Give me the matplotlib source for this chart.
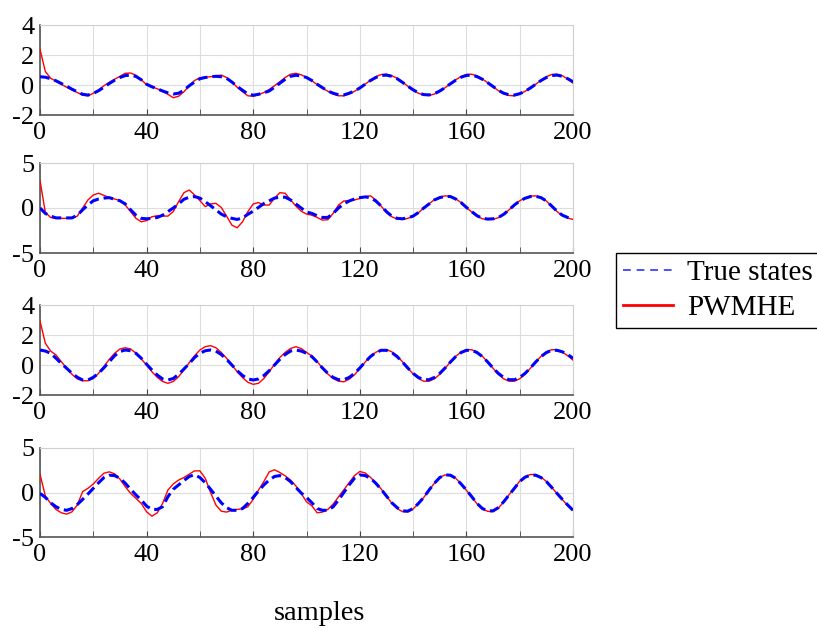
import numpy as np
import matplotlib
matplotlib.use('Agg')
import matplotlib.pyplot as plt
from matplotlib.lines import Line2D

plt.rcParams['font.family'] = ['Liberation Serif', 'DejaVu Serif']
plt.rcParams['axes.unicode_minus'] = False

# sample index (every 2 samples)
t = list(range(0, 201, 2))

# state 1
x1_true = [0.55, 0.52, 0.42, 0.28, 0.1, -0.08, -0.28, -0.45, -0.62, -0.67,
           -0.56, -0.38, -0.15, 0.1, 0.32, 0.5, 0.63, 0.66, 0.57, 0.35,
           0.05, -0.12, -0.25, -0.4, -0.52, -0.6, -0.55, -0.35, -0.05, 0.2,
           0.42, 0.5, 0.55, 0.58, 0.55, 0.45, 0.2, -0.1, -0.35, -0.6,
           -0.68, -0.62, -0.52, -0.4, -0.15, 0.12, 0.38, 0.58, 0.65, 0.6,
           0.5, 0.3, 0.05, -0.18, -0.4, -0.55, -0.65, -0.66, -0.55, -0.4,
           -0.2, 0.05, 0.3, 0.5, 0.63, 0.66, 0.58, 0.42, 0.18, -0.08,
           -0.32, -0.52, -0.64, -0.66, -0.58, -0.4, -0.18, 0.08, 0.32, 0.52,
           0.64, 0.66, 0.56, 0.38, 0.15, -0.1, -0.35, -0.55, -0.65, -0.67,
           -0.58, -0.42, -0.2, 0.05, 0.3, 0.5, 0.63, 0.66, 0.58, 0.42,
           0.22]
x1_est = [2.38, 0.9, 0.45, 0.25, 0.05, -0.15, -0.32, -0.5, -0.68, -0.72,
          -0.55, -0.32, -0.05, 0.18, 0.38, 0.58, 0.78, 0.8, 0.65, 0.35,
          0.02, -0.12, -0.25, -0.42, -0.62, -0.85, -0.75, -0.45, -0.05, 0.3,
          0.48, 0.52, 0.55, 0.62, 0.66, 0.5, 0.2, -0.15, -0.45, -0.72,
          -0.75, -0.65, -0.5, -0.3, -0.05, 0.22, 0.5, 0.72, 0.78, 0.68,
          0.5, 0.28, 0.03, -0.2, -0.42, -0.6, -0.72, -0.72, -0.6, -0.42,
          -0.2, 0.05, 0.32, 0.55, 0.7, 0.72, 0.62, 0.45, 0.2, -0.08,
          -0.35, -0.55, -0.68, -0.7, -0.6, -0.42, -0.18, 0.08, 0.35, 0.56,
          0.7, 0.72, 0.6, 0.4, 0.15, -0.12, -0.38, -0.58, -0.7, -0.72,
          -0.6, -0.42, -0.2, 0.05, 0.32, 0.55, 0.7, 0.72, 0.62, 0.4,
          0.12]

# state 2
x2_true = [0.0, -0.6, -0.9, -1.1, -1.1, -1.1, -1.1, -0.8, -0.2, 0.35,
           0.8, 1.0, 1.1, 1.15, 0.97, 0.8, 0.45, -0.2, -0.8, -1.15,
           -1.2, -1.15, -1.05, -0.8, -0.4, 0.0, 0.45, 0.97, 1.2, 1.27,
           1.1, 0.7, 0.26, -0.2, -0.67, -0.97, -1.15, -1.27, -1.1, -0.7,
           -0.35, 0.07, 0.5, 0.8, 1.1, 1.2, 1.2, 0.9, 0.45, 0.0,
           -0.45, -0.6, -0.86, -1.05, -1.05, -0.6, 0.0, 0.45, 0.78, 1.0,
           1.15, 1.23, 1.15, 0.78, 0.22, -0.4, -0.9, -1.15, -1.2, -1.1,
           -0.9, -0.5, 0.0, 0.45, 0.9, 1.15, 1.3, 1.27, 1.0, 0.6,
           0.07, -0.4, -0.86, -1.15, -1.23, -1.2, -1.05, -0.7, -0.2, 0.33,
           0.78, 1.08, 1.27, 1.3, 1.15, 0.78, 0.22, -0.35, -0.8, -1.05,
           -1.15]
x2_est = [3.06, -0.5, -1.05, -1.15, -1.15, -1.15, -1.15, -0.9, 0.0, 0.9,
          1.45, 1.64, 1.4, 1.15, 1.0, 0.82, 0.33, -0.4, -1.15, -1.53,
          -1.4, -0.97, -0.86, -0.9, -0.9, -0.4, 0.7, 1.7, 2.0, 1.45,
          0.82, 0.15, 0.45, 0.52, 0.07, -0.9, -1.9, -2.2, -1.53, -0.4,
          0.45, 0.6, 0.33, 0.33, 1.1, 1.7, 1.64, 0.9, 0.22, -0.35,
          -0.67, -0.8, -1.05, -1.35, -1.3, -0.6, 0.33, 0.78, 0.82, 0.9,
          1.05, 1.27, 1.35, 0.9, 0.22, -0.5, -0.97, -1.23, -1.27, -1.15,
          -0.92, -0.52, 0.0, 0.47, 0.93, 1.2, 1.35, 1.3, 1.02, 0.6,
          0.05, -0.45, -0.9, -1.2, -1.28, -1.25, -1.08, -0.72, -0.2, 0.35,
          0.8, 1.12, 1.32, 1.35, 1.18, 0.78, 0.2, -0.4, -0.85, -1.12,
          -1.27]

# state 3
x3_true = [1.0, 0.93, 0.78, 0.45, 0.1, -0.22, -0.55, -0.82, -1.0, -1.0,
           -0.82, -0.55, -0.18, 0.22, 0.62, 0.9, 1.0, 0.95, 0.78, 0.45,
           0.05, -0.33, -0.67, -0.93, -1.0, -0.9, -0.62, -0.27, 0.1, 0.5,
           0.78, 0.95, 1.0, 0.93, 0.7, 0.38, 0.0, -0.38, -0.7, -0.93,
           -1.0, -0.93, -0.7, -0.38, 0.0, 0.38, 0.7, 0.93, 1.0, 0.93,
           0.78, 0.56, 0.2, -0.2, -0.56, -0.83, -0.98, -0.98, -0.83, -0.56,
           -0.2, 0.2, 0.56, 0.83, 0.98, 0.98, 0.83, 0.56, 0.2, -0.2,
           -0.56, -0.83, -0.98, -0.98, -0.83, -0.56, -0.2, 0.2, 0.56, 0.83,
           0.98, 0.98, 0.83, 0.56, 0.2, -0.2, -0.56, -0.83, -0.98, -0.98,
           -0.83, -0.56, -0.2, 0.2, 0.56, 0.83, 0.98, 0.98, 0.88, 0.7,
           0.45]
x3_est = [2.93, 1.45, 0.93, 0.67, 0.22, -0.22, -0.62, -0.93, -1.05, -1.05,
          -0.9, -0.55, -0.1, 0.38, 0.78, 1.07, 1.15, 1.07, 0.78, 0.4,
          0.0, -0.45, -0.82, -1.1, -1.22, -1.1, -0.78, -0.33, 0.15, 0.62,
          1.0, 1.22, 1.29, 1.15, 0.84, 0.45, 0.0, -0.45, -0.84, -1.15,
          -1.29, -1.22, -0.9, -0.45, 0.05, 0.5, 0.84, 1.1, 1.22, 1.1,
          0.84, 0.6, 0.22, -0.2, -0.6, -0.9, -1.08, -1.12, -0.95, -0.65,
          -0.25, 0.2, 0.58, 0.85, 1.0, 1.02, 0.88, 0.6, 0.22, -0.2,
          -0.6, -0.9, -1.08, -1.08, -0.92, -0.62, -0.22, 0.2, 0.58, 0.86,
          1.02, 1.02, 0.86, 0.58, 0.2, -0.22, -0.62, -0.92, -1.08, -1.08,
          -0.92, -0.62, -0.22, 0.2, 0.58, 0.86, 1.02, 1.02, 0.86, 0.62,
          0.33]

# state 4
x4_true = [-0.1, -0.55, -1.15, -1.6, -1.9, -2.0, -1.8, -1.35, -0.77, -0.17,
           0.47, 1.1, 1.68, 1.94, 1.9, 1.6, 1.04, 0.36, -0.28, -0.85,
           -1.53, -1.9, -1.9, -1.6, -0.47, 0.36, 0.85, 1.34, 1.8, 2.0,
           1.68, 1.1, 0.36, -0.4, -1.15, -1.7, -2.0, -2.0, -1.8, -1.23,
           -0.55, 0.17, 0.85, 1.4, 1.8, 1.9, 1.68, 1.23, 0.58, -0.05,
           -0.55, -1.15, -1.8, -2.0, -2.0, -1.6, -0.85, 0.0, 0.85, 1.6,
           1.98, 1.9, 1.6, 1.04, 0.36, -0.4, -1.15, -1.7, -2.06, -2.1,
           -1.8, -1.23, -0.55, 0.28, 1.04, 1.68, 1.98, 1.94, 1.6, 0.96,
           0.28, -0.47, -1.23, -1.8, -2.06, -2.06, -1.7, -1.04, -0.28, 0.47,
           1.23, 1.72, 1.94, 1.94, 1.68, 1.23, 0.58, -0.1, -0.77, -1.4,
           -2.0]
x4_est = [2.06, -0.4, -1.23, -1.9, -2.28, -2.43, -2.17, -1.4, 0.1, 0.47,
          0.96, 1.6, 2.17, 2.32, 2.1, 1.5, 0.66, -0.1, -0.66, -1.23,
          -2.17, -2.66, -2.28, -1.23, 0.28, 0.96, 1.4, 1.68, 2.06, 2.43,
          2.43, 1.6, 0.0, -1.4, -2.1, -2.2, -2.0, -1.9, -1.83, -1.6,
          -0.77, 0.28, 1.23, 2.32, 2.55, 2.25, 1.87, 1.4, 0.74, -0.1,
          -1.04, -1.5, -2.28, -2.2, -1.9, -1.3, -0.5, 0.3, 1.1, 1.9,
          2.36, 2.2, 1.7, 1.1, 0.4, -0.4, -1.2, -1.8, -2.15, -2.17,
          -1.85, -1.25, -0.55, 0.28, 1.05, 1.7, 1.98, 1.94, 1.6, 0.96,
          0.25, -0.5, -1.28, -1.85, -2.12, -2.15, -1.75, -1.05, -0.25, 0.5,
          1.28, 1.78, 2.02, 2.02, 1.72, 1.25, 0.58, -0.12, -0.8, -1.45,
          -2.0]

series = [(x1_true, x1_est, (-2, 4), [-2, 0, 2, 4]),
          (x2_true, x2_est, (-5, 5), [-5, 0, 5]),
          (x3_true, x3_est, (-2, 4), [-2, 0, 2, 4]),
          (x4_true, x4_est, (-5, 5), [-5, 0, 5])]

fig = plt.figure(figsize=(8.17, 6.28), dpi=100)
W, H = 817, 628
tops = [25, 163, 305, 448]
bots = [115, 253, 395, 537]

for i, (xt, xe, ylim, yt) in enumerate(series):
    ax = fig.add_axes([40 / W, 1 - bots[i] / H, 533 / W, (bots[i] - tops[i]) / H])
    ax.plot(t, xe, color='red', lw=1.0, zorder=3)
    ax.plot(t, xt, color='blue', lw=2.2, ls='--', dashes=(3.2, 1.6), zorder=4)
    ax.set_xlim(0, 200)
    ax.set_ylim(*ylim)
    ax.set_xticks(range(0, 201, 40))
    ax.set_xticks(range(20, 201, 40), minor=True)
    ax.set_yticks(yt)
    ax.grid(True, which='both', color='#dddddd', lw=0.8)
    ax.tick_params(axis='both', which='both', direction='in', labelsize=19,
                   length=4, color='#444444')
    ax.tick_params(axis='x', pad=5)
    ax.tick_params(axis='y', length=0, pad=4)
    for s in ['top', 'right']:
        ax.spines[s].set_color('#d0d0d0')
    for s in ['left', 'bottom']:
        ax.spines[s].set_color('#555555')
        ax.spines[s].set_linewidth(1.2)

fig.text(320 / W, 1 - 613 / H, 'samples', ha='center', va='center', fontsize=20.5)

handles = [Line2D([], [], color='#5050ff', lw=1.4, ls='--', dashes=(4, 3)),
           Line2D([], [], color='red', lw=2.0)]
fig.legend(handles, ['True states', 'PWMHE'], loc='upper left',
           bbox_to_anchor=(616 / W, 1 - 253 / H), fontsize=21,
           frameon=True, fancybox=False, edgecolor='black', framealpha=1,
           handlelength=1.7, handletextpad=0.5, borderpad=0.24,
           labelspacing=0.28, borderaxespad=0)

fig.savefig('out.png', dpi=100)
